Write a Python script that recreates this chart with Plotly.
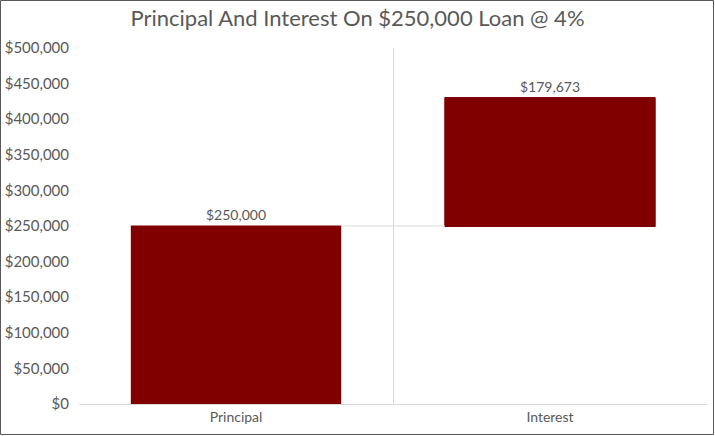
import plotly.graph_objects as go

categories = ["Principal", "Interest"]
amounts = [250000, 179673]
measures = ["absolute", "relative"]
labels = ["$250,000", "$179,673"]
y_ticks = list(range(0, 500001, 50000))

W, H = 715, 436
ml, mr, mt, mb = 79, 8, 48, 32
pw, ph = W - ml - mr, H - mt - mb

fig = go.Figure(go.Waterfall(
    x=categories, y=amounts, measure=measures,
    text=labels, textposition="outside",
    textfont=dict(size=14, color="#595959"),
    increasing=dict(marker=dict(color="#800000", line=dict(color="#7a0000", width=1))),
    totals=dict(marker=dict(color="#800000")),
    decreasing=dict(marker=dict(color="#800000")),
    connector=dict(mode="between", line=dict(color="#d9d9d9", width=1)),
    cliponaxis=False, width=0.67,
))

fig.update_layout(
    width=W, height=H,
    margin=dict(l=ml, r=mr, t=mt, b=mb, autoexpand=False),
    paper_bgcolor="white", plot_bgcolor="white",
    font=dict(family="Lato, Open Sans, sans-serif", color="#595959"),
    title=dict(text="Principal And Interest On $250,000 Loan @ 4%",
               x=0.5, xanchor="center", y=0.975, yanchor="top",
               font=dict(size=22, color="#595959")),
    showlegend=False,
    xaxis=dict(tickson="boundaries", showgrid=True, gridcolor="#d9d9d9",
               showline=True, linecolor="#d9d9d9", ticks="",
               tickfont=dict(size=14, color="#595959"), zeroline=False,
               automargin=False),
    yaxis=dict(range=[0, 500000], tickvals=y_ticks,
               ticktext=[f"${v:,}" for v in y_ticks],
               showgrid=False, zeroline=False, showline=False,
               tickfont=dict(size=15, color="#595959"), ticklen=6,
               ticks="outside", tickcolor="white", automargin=False),
)

# thin frame around the whole chart
fig.add_shape(type="rect", xref="paper", yref="paper",
              x0=-(ml - 0.5) / pw, x1=1 + (mr - 1.5) / pw,
              y0=-(mb - 1.5) / ph, y1=1 + (mt - 0.5) / ph,
              line=dict(color="#595959", width=1), layer="below")

# page body has a default 8px margin; drop it so the chart sits at 0,0
fig.write_html("out.html", config={"displayModeBar": False},
               post_script="document.body.style.margin='0';")
